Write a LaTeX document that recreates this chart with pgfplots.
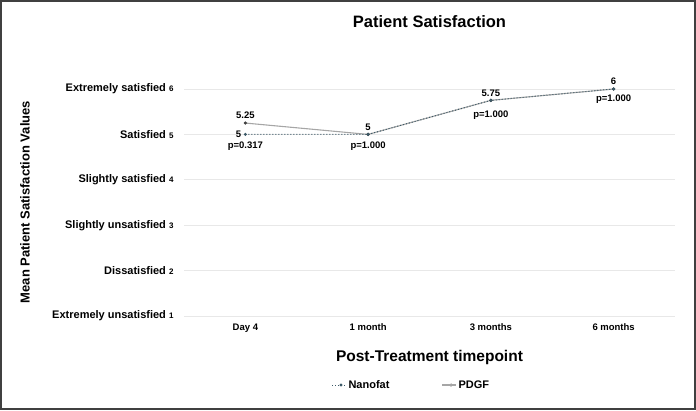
\documentclass[border=0pt]{standalone}
\usepackage{fontspec}
\setmainfont{Liberation Sans}
\usepackage{pgfplots}
\pgfplotsset{compat=1.18}
\definecolor{nano}{HTML}{3C5A68}
\definecolor{pdgf}{HTML}{A6A6A6}
\definecolor{gridc}{HTML}{E8E8E8}
\definecolor{framec}{HTML}{404040}
\begin{document}
\begin{tikzpicture}
\draw[framec, line width=2pt] (1pt,1pt) rectangle (695pt,409pt);
\begin{axis}[
  at={(184pt,94pt)}, anchor=south west,
  scale only axis, width=491pt, height=227pt,
  xmin=-0.5, xmax=3.5, ymin=1, ymax=6,
  clip=false,
  axis line style={draw=none},
  major tick length=0pt,
  xmajorgrids=false,
  ymajorgrids=true, grid style={draw=gridc, line width=0.8pt},
  xtick={0,1,2,3},
  xticklabels={Day 4, 1 month, 3 months, 6 months},
  xticklabel style={font=\fontsize{9.5}{11}\selectfont\bfseries, yshift=-4pt},
  ytick={1,2,3,4,5,6},
  yticklabels={
    Extremely unsatisfied {\fontsize{8}{9}\selectfont 1},
    Dissatisfied {\fontsize{8}{9}\selectfont 2},
    Slightly unsatisfied {\fontsize{8}{9}\selectfont 3},
    Slightly satisfied {\fontsize{8}{9}\selectfont 4},
    Satisfied {\fontsize{8}{9}\selectfont 5},
    Extremely satisfied {\fontsize{8}{9}\selectfont 6}},
  yticklabel style={font=\fontsize{11}{13}\selectfont\bfseries, xshift=-7pt},
  title={Patient Satisfaction},
  title style={font=\fontsize{16.5}{19}\selectfont\bfseries, at={(0.5,1.27)}, anchor=center},
  xlabel={Post-Treatment timepoint},
  xlabel style={font=\fontsize{15.5}{18}\selectfont\bfseries, at={(0.5,-0.181)}, anchor=center},
  ylabel={Mean Patient Satisfaction Values},
  ylabel style={font=\fontsize{13}{16}\selectfont\bfseries, at={(-0.324,0.502)}, anchor=center, rotate=0},
  legend columns=2,
  reverse legend,
  legend style={at={(0.463,-0.304)}, anchor=center, draw=none, fill=none,
    font=\fontsize{11}{13}\selectfont\bfseries,
    /tikz/every even column/.append style={column sep=50pt}},
  legend image code/.code={\draw[#1] (0pt,0pt) -- (14pt,0pt); \fill[#1, solid] (9pt,0pt) circle (1pt);},
]
\addplot[pdgf, line width=1.1pt, mark=*, mark size=1pt, mark options={fill=framec, draw=framec}]
  coordinates {(0,5.25) (1,5) (2,5.75) (3,6)};
\addlegendentry{PDGF}
\addplot[nano, line width=1pt, dotted, mark=*, mark size=1pt, mark options={solid, fill=nano}]
  coordinates {(0,5) (1,5) (2,5.75) (3,6)};
\addlegendentry{Nanofat}
\begin{scope}[every node/.style={font=\fontsize{9.5}{11}\selectfont\bfseries, inner sep=1pt}]
\node[anchor=south] at (axis cs:0,5.25) [yshift=3pt] {5.25};
\node[anchor=east] at (axis cs:0,5) [xshift=-3pt] {5};
\node[anchor=north] at (axis cs:0,5) [yshift=-6pt] {p=0.317};
\node[anchor=south] at (axis cs:1,5) [yshift=3pt] {5};
\node[anchor=north] at (axis cs:1,5) [yshift=-6pt] {p=1.000};
\node[anchor=south] at (axis cs:2,5.75) [yshift=3pt] {5.75};
\node[anchor=north] at (axis cs:2,5.75) [yshift=-9pt] {p=1.000};
\node[anchor=south] at (axis cs:3,6) [yshift=3pt] {6};
\node[anchor=north] at (axis cs:3,6) [yshift=-5pt] {p=1.000};
\end{scope}
\end{axis}
\end{tikzpicture}
\end{document}
